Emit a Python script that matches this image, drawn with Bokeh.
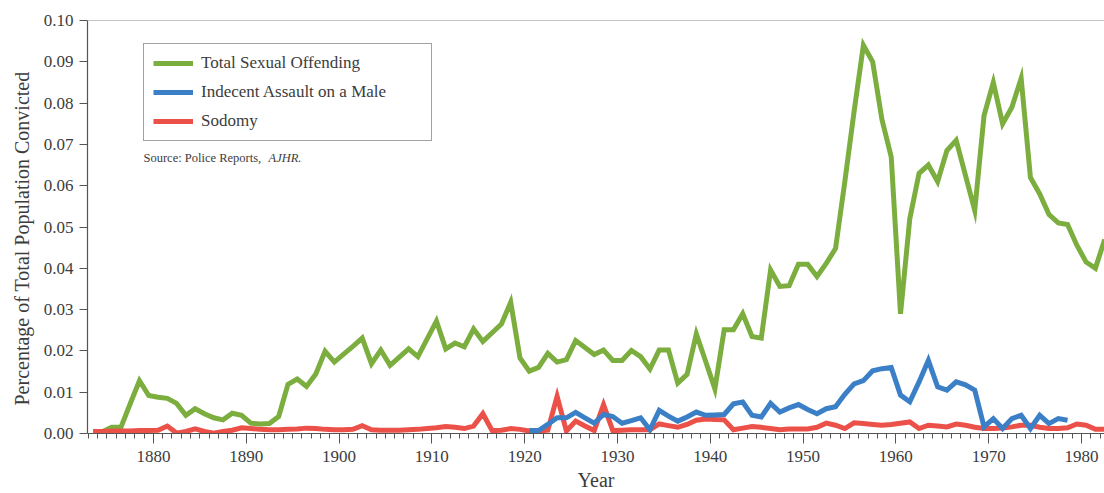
from bokeh.plotting import figure
from bokeh.models import (FixedTicker, NumeralTickFormatter, Legend, LegendItem,
                          Span, Label, Range1d, Title)
from bokeh.embed import file_html
from bokeh.resources import INLINE

# ---------------- data ----------------
total_start = 1874
total_sexual = [
    0.0004, 0.0015, 0.0015, 0.0072, 0.0128, 0.0092,
    0.0088, 0.0085, 0.0073, 0.0044, 0.0060, 0.0048, 0.0038, 0.0033, 0.0049, 0.0044,
    0.0025, 0.0023, 0.0024, 0.0041, 0.0119, 0.0132, 0.0114, 0.0144, 0.0199, 0.0173,
    0.0192, 0.0211, 0.0231, 0.0169, 0.0202, 0.0165, 0.0185, 0.0205, 0.0186, 0.0229,
    0.0272, 0.0205, 0.0219, 0.0210, 0.0253, 0.0223, 0.0244, 0.0265, 0.0318, 0.0183,
    0.0151, 0.0160, 0.0194, 0.0173, 0.0179, 0.0225, 0.0208, 0.0191, 0.0202, 0.0177,
    0.0177, 0.0201, 0.0186, 0.0156, 0.0202, 0.0202, 0.0122, 0.0143, 0.0241, 0.0175,
    0.0108, 0.0251, 0.0251, 0.0290, 0.0235, 0.0231, 0.0396, 0.0356, 0.0358, 0.0410,
    0.0410, 0.0380, 0.0412, 0.0448, 0.0610, 0.0780, 0.0940, 0.0900, 0.0760, 0.0670,
    0.0290, 0.0520, 0.0630, 0.0650, 0.0610, 0.0685, 0.0710, 0.0625, 0.0540, 0.0770,
    0.0850, 0.0750, 0.0790, 0.0860, 0.0620, 0.0580, 0.0530, 0.0510, 0.0506, 0.0456,
    0.0415, 0.0400, 0.0470,
]

male_start = 1920
indecent_male = [
    0.0007, 0.0007, 0.0022, 0.0038, 0.0038, 0.0051, 0.0038, 0.0025, 0.0046, 0.0041,
    0.0025, 0.0031, 0.0038, 0.0009, 0.0056, 0.0042, 0.0030, 0.0040, 0.0052, 0.0044,
    0.0045, 0.0046, 0.0072, 0.0076, 0.0044, 0.0040, 0.0073, 0.0052, 0.0062, 0.0070,
    0.0058, 0.0048, 0.0060, 0.0065, 0.0095, 0.0120, 0.0128, 0.0152, 0.0157, 0.0160,
    0.0093, 0.0077, 0.0125, 0.0177, 0.0113, 0.0105, 0.0125, 0.0118, 0.0105, 0.0016,
    0.0036, 0.0012, 0.0036, 0.0044, 0.0012, 0.0044, 0.0024, 0.0036, 0.0032,
]

sodomy_start = 1873
sodomy = [
    0.0005, 0.0005, 0.0006, 0.0006, 0.0006, 0.0007, 0.0007,
    0.0008, 0.0018, 0.0001, 0.0005, 0.0011, 0.0005, 0.0001, 0.0005, 0.0008, 0.0014,
    0.0012, 0.0010, 0.0009, 0.0009, 0.0010, 0.0011, 0.0013, 0.0012, 0.0010, 0.0009,
    0.0009, 0.0010, 0.0019, 0.0009, 0.0008, 0.0008, 0.0008, 0.0009, 0.0010, 0.0012,
    0.0014, 0.0017, 0.0015, 0.0012, 0.0018, 0.0048, 0.0007, 0.0008, 0.0012, 0.0010,
    0.0006, 0.0006, 0.0008, 0.0090, 0.0006, 0.0030, 0.0018, 0.0007, 0.0070, 0.0007,
    0.0008, 0.0009, 0.0009, 0.0009, 0.0023, 0.0019, 0.0015, 0.0022, 0.0032, 0.0035,
    0.0034, 0.0033, 0.0009, 0.0013, 0.0017, 0.0015, 0.0012, 0.0009, 0.0011, 0.0011,
    0.0011, 0.0015, 0.0025, 0.0020, 0.0012, 0.0026, 0.0024, 0.0022, 0.0020, 0.0022,
    0.0025, 0.0028, 0.0012, 0.0020, 0.0018, 0.0016, 0.0023, 0.0020, 0.0015, 0.0012,
    0.0012, 0.0013, 0.0016, 0.0020, 0.0020, 0.0015, 0.0012, 0.0012, 0.0014, 0.0023,
    0.0020, 0.0010, 0.0010,
]

series_names = ["Total Sexual Offending", "Indecent Assault on a Male", "Sodomy"]
x_tick_labels = [1880, 1890, 1900, 1910, 1920, 1930, 1940, 1950, 1960, 1970, 1980]
y_ticks = [0.00, 0.01, 0.02, 0.03, 0.04, 0.05, 0.06, 0.07, 0.08, 0.09, 0.10]
x_title = "Year"
y_title = "Percentage of Total Population Convicted"

# ---------------- style ----------------
GREEN = "#7cae3f"
BLUE = "#3b7fc6"
RED = "#ec5149"
FONT = "Liberation Serif"
TXT = "#3c3c3c"
AX = "#555555"


def mid_year(start, vals):
    # yearly figures are plotted at mid-year
    return [start + i + 0.5 for i in range(len(vals))]


X0, X1 = 1872.9, 1982.48
PX_PER_YEAR = 9.28
PX_PER_UNIT = 4130.0

p = figure(frame_width=1017, frame_height=413, output_backend="svg",
           toolbar_location=None,
           x_range=Range1d(X0, X1), y_range=Range1d(0, 0.10),
           min_border_left=87, min_border_right=0, min_border_top=20,
           min_border_bottom=0)
p.outline_line_color = None
p.xgrid.visible = False
p.ygrid.visible = False
p.background_fill_color = "white"
p.border_fill_color = "white"

rg = p.line(mid_year(total_start, total_sexual), total_sexual,
            line_color=GREEN, line_width=5, line_join="miter")
rr = p.line(mid_year(sodomy_start, sodomy), sodomy,
            line_color=RED, line_width=5, line_join="miter")
rb = p.line(mid_year(male_start, indecent_male), indecent_male,
            line_color=BLUE, line_width=5, line_join="miter")

# top frame line
p.add_layout(Span(location=0.10, dimension="width", line_color="#8a8a8a",
                  line_width=1.2))

# axes
xa = p.xaxis[0]
xa.ticker = FixedTicker(ticks=x_tick_labels,
                        minor_ticks=list(range(1873, 1983)))
xa.axis_label = x_title
ya = p.yaxis[0]
ya.ticker = FixedTicker(ticks=y_ticks, minor_ticks=[])
ya.formatter = NumeralTickFormatter(format="0.00")

for ax in (xa, ya):
    ax.axis_line_color = AX
    ax.axis_line_width = 1.2
    ax.major_tick_line_color = AX
    ax.minor_tick_line_color = AX
    ax.major_label_text_font = FONT
    ax.major_label_text_font_size = "17px"
    ax.major_label_text_color = TXT
    ax.axis_label_text_font = FONT
    ax.axis_label_text_font_size = "20px"
    ax.axis_label_text_font_style = "normal"
    ax.axis_label_text_color = TXT

xa.major_tick_out = 10
xa.major_tick_in = 0
xa.minor_tick_out = 5
xa.minor_tick_in = 0
xa.major_label_standoff = 7
xa.axis_label_standoff = 4

ya.major_tick_out = 8
ya.major_tick_in = 0
ya.minor_tick_out = 0
ya.minor_tick_in = 0
ya.major_label_standoff = 6

# y-axis title, set slightly below the frame centre as in the original
ytitle = Title(text=y_title, align="left", offset=28, standoff=16,
               text_font=FONT, text_font_size="20px",
               text_font_style="normal", text_color=TXT)
p.add_layout(ytitle, "left")

legend = Legend(items=[LegendItem(label=series_names[0], renderers=[rg]),
                       LegendItem(label=series_names[1], renderers=[rb]),
                       LegendItem(label=series_names[2], renderers=[rr])],
                location=(56, 292))
legend.label_text_font = FONT
legend.label_text_font_size = "17px"
legend.label_text_color = TXT
legend.glyph_width = 40
legend.glyph_height = 20
legend.label_height = 20
legend.label_width = 221
legend.label_standoff = 8
legend.spacing = 9
legend.padding = 9
legend.margin = 0
legend.border_line_color = "#444444"
legend.border_line_width = 1.2
legend.background_fill_color = "white"
legend.background_fill_alpha = 1.0
p.add_layout(legend)

src_y = (433 - 157) / PX_PER_UNIT
src1 = Label(x=X0 + (143 - 87) / PX_PER_YEAR, y=src_y,
             text="Source: Police Reports,",
             text_font=FONT, text_font_size="12.5px", text_color=TXT,
             text_baseline="middle")
src2 = Label(x=X0 + (268 - 87) / PX_PER_YEAR, y=src_y, text="AJHR.",
             text_font=FONT, text_font_size="12.5px", text_color=TXT,
             text_font_style="italic", text_baseline="middle")
p.add_layout(src1)
p.add_layout(src2)

open("out.html", "w").write(file_html(p, INLINE))
